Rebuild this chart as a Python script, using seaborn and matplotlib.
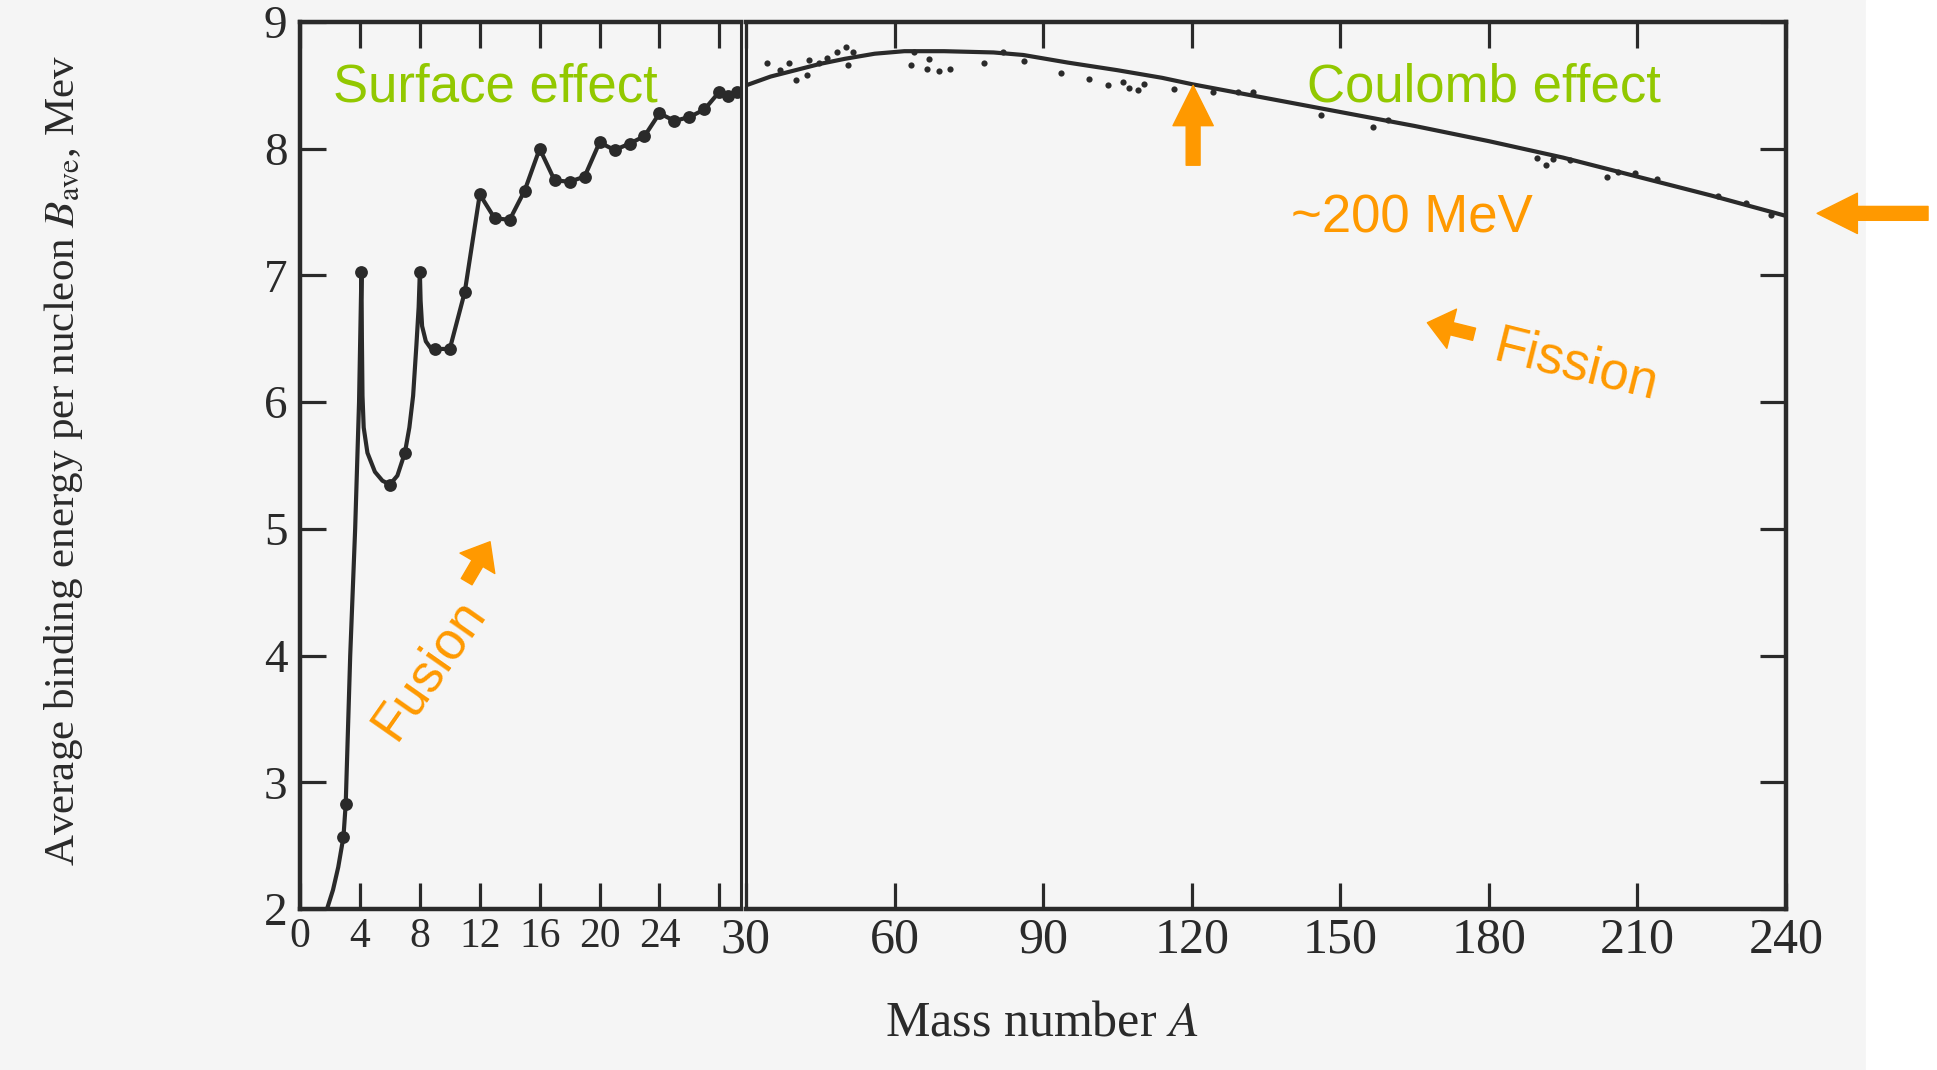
import numpy as np
import pandas as pd
import matplotlib
matplotlib.use('Agg')
import matplotlib.pyplot as plt
import seaborn as sns
from matplotlib.patches import Rectangle

sns.set_style('white')
plt.rcParams['font.family'] = ['Liberation Serif', 'DejaVu Serif']
plt.rcParams['mathtext.fontset'] = 'stix'

# light nuclei, A <= 30 (measured points)
light_a = [2.9, 3.05, 4.1, 6, 7, 8, 9, 10, 11, 12, 13, 14, 15, 16, 17, 18, 19, 20,
           21, 22, 23, 24, 25, 26, 27, 28, 28.6, 29.2]
light_b = [2.57, 2.83, 7.03, 5.35, 5.60, 7.03, 6.42, 6.42, 6.87, 7.64, 7.45, 7.44,
           7.67, 8.00, 7.75, 7.74, 7.78, 8.05, 7.99, 8.04, 8.10, 8.28, 8.22, 8.25,
           8.31, 8.45, 8.42, 8.45]

# hand drawn guide curve through the light nuclei
light_curve_a = [1.8, 2.2, 2.55, 2.9, 3.05, 3.35, 3.68, 3.94, 4.1, 4.13, 4.17, 4.25,
                 4.5, 5.0, 5.5, 6.0, 6.5, 7.0, 7.3, 7.55, 7.77, 7.92, 8.0, 8.05,
                 8.15, 8.4, 8.7, 9, 10, 11, 12, 13, 14, 15, 16, 17, 18, 19, 20,
                 21, 22, 23, 24, 25, 26, 27, 28, 28.6, 29.2, 29.45]
light_curve_b = [2.0, 2.15, 2.33, 2.57, 2.83, 4.0, 5.0, 6.0, 7.03, 6.5, 6.05, 5.8,
                 5.6, 5.45, 5.38, 5.35, 5.42, 5.60, 5.8, 6.05, 6.45, 6.75, 7.03, 6.8,
                 6.6, 6.48, 6.43, 6.42, 6.42, 6.87, 7.64, 7.45, 7.44, 7.67, 8.00,
                 7.75, 7.74, 7.78, 8.05, 7.99, 8.04, 8.10, 8.28, 8.22, 8.25, 8.31,
                 8.45, 8.42, 8.45, 8.47]

# heavier nuclei, A >= 30
heavy_curve_a = [30, 35, 40, 45, 50, 56, 62, 70, 80, 86, 95, 105, 114, 120, 135,
                 150, 165, 180, 195, 210, 225, 240]
heavy_curve_b = [8.50, 8.57, 8.62, 8.67, 8.71, 8.75, 8.77, 8.77, 8.76, 8.74, 8.68,
                 8.62, 8.56, 8.51, 8.40, 8.29, 8.18, 8.06, 7.93, 7.78, 7.63, 7.47]

heavy_a = [34.2, 36.8, 38.6, 40.2, 42.3, 42.7, 44.7, 46.3, 48.3, 50.3, 50.7, 51.7,
           63.4, 64.0, 66.5, 66.9, 68.9, 71.3, 78.1, 82.0, 86.2, 93.7, 99.3, 103.1,
           106.2, 107.4, 109.2, 110.4, 116.5, 124.3, 129.4, 132.4, 146.1, 156.6,
           159.6, 189.8, 191.5, 193.0, 196.5, 203.9, 206.0, 209.6, 214.0, 226.3,
           232.0, 237.0]
heavy_b = [8.68, 8.62, 8.68, 8.54, 8.58, 8.70, 8.68, 8.72, 8.76, 8.80, 8.66, 8.76,
           8.66, 8.76, 8.63, 8.71, 8.61, 8.63, 8.68, 8.76, 8.69, 8.60, 8.55, 8.50,
           8.53, 8.48, 8.46, 8.51, 8.47, 8.45, 8.45, 8.45, 8.27, 8.17, 8.23, 7.93,
           7.87, 7.92, 7.91, 7.78, 7.82, 7.81, 7.76, 7.63, 7.57, 7.48]

left_ticks = [0, 4, 8, 12, 16, 20, 24, 28]
left_labels = ['0', '4', '8', '12', '16', '20', '24', '']
right_ticks = [30, 60, 90, 120, 150, 180, 210, 240]
y_ticks = [2, 3, 4, 5, 6, 7, 8, 9]

ink = '#2a2a2a'
green = '#92c800'
orange = '#ff9900'

fig = plt.figure(figsize=(19.37, 10.70), dpi=100, facecolor='#f5f5f5')
# white strip at the right edge of the scanned page
fig.patches.append(Rectangle((0.9635, 0), 0.0365, 1, transform=fig.transFigure,
                             color='white', zorder=-5))
ax1 = fig.add_axes([0.1549, 0.1505, 0.2277, 0.8289])
ax2 = fig.add_axes([0.3851, 0.1505, 0.5369, 0.8289])

# left panel
lc = pd.DataFrame({'A': light_curve_a, 'B': light_curve_b})
sns.lineplot(data=lc, x='A', y='B', ax=ax1, sort=False, estimator=None,
             color=ink, linewidth=3.0)
sns.scatterplot(x=light_a, y=light_b, ax=ax1, color=ink, s=85, linewidth=0, zorder=3)
ax1.set_xlim(0, 29.45)
ax1.set_ylim(2, 9)
ax1.set_xticks(left_ticks)
ax1.set_xticklabels(left_labels)
ax1.set_yticks(y_ticks)
ax1.tick_params(axis='x', direction='in', length=19, width=2.3, color=ink,
                top=True, bottom=True, labelsize=30, pad=6, labelcolor=ink)
ax1.tick_params(axis='y', direction='in', length=19, width=2.3, color=ink,
                left=True, right=False, labelsize=34, pad=9, labelcolor=ink)

# right panel
hc = pd.DataFrame({'A': heavy_curve_a, 'B': heavy_curve_b})
sns.lineplot(data=hc, x='A', y='B', ax=ax2, sort=False, estimator=None,
             color=ink, linewidth=3.0)
sns.scatterplot(x=heavy_a, y=heavy_b, ax=ax2, color=ink, s=20, linewidth=0, zorder=3)
ax2.set_xlim(30, 240)
ax2.set_ylim(2, 9)
ax2.set_xticks(right_ticks)
ax2.set_yticks(y_ticks)
ax2.tick_params(axis='x', direction='in', length=19, width=2.3, color=ink,
                top=True, bottom=True, labelsize=36, pad=6, labelcolor=ink)
ax2.tick_params(axis='y', direction='in', length=19, width=2.3, color=ink,
                left=False, right=True, labelleft=False, labelright=False)

for ax in (ax1, ax2):
    ax.set_facecolor('none')
    ax.set_xlabel('')
    ax.set_ylabel('')
    for side, sp in ax.spines.items():
        sp.set_visible(True)
        sp.set_color(ink)
        sp.set_linewidth(3.2)
ax1.spines['right'].set_linewidth(2.2)
ax2.spines['left'].set_linewidth(2.2)

fig.text(0.5376, 0.044, r'Mass number $A$', ha='center', va='center',
         fontsize=36, color=ink)
fig.text(0.033, 0.570, r'Average binding energy per nucleon $B_{\rm ave}$, Mev',
         ha='center', va='center', rotation=90, fontsize=31, color=ink)

# annotations
sans = ['Liberation Sans', 'DejaVu Sans']
fig.text(0.172, 0.905, 'Surface effect', family=sans, fontsize=38, color=green,
         ha='left', va='baseline')
fig.text(0.6748, 0.9056, 'Coulomb effect', family=sans, fontsize=38, color=green,
         ha='left', va='baseline')
fig.text(0.6665, 0.783, '~200 MeV', family=sans, fontsize=38, color=orange,
         ha='left', va='baseline')
fig.text(0.7701, 0.6642, 'Fission', family=sans, fontsize=38, color=orange,
         ha='left', va='baseline', rotation=-14, rotation_mode='anchor')
fig.text(0.2039, 0.3068, 'Fusion', family=sans, fontsize=38, color=orange,
         ha='left', va='baseline', rotation=55, rotation_mode='anchor')

block = 'simple,head_length=1.45,head_width=1.45,tail_width=0.5'
small = 'simple,head_length=0.9,head_width=1.45,tail_width=0.45'
ax2.annotate('', xy=(120.3, 8.50), xytext=(120.3, 7.87),
             arrowprops=dict(arrowstyle=block, color=orange, mutation_scale=20,
                             shrinkA=0, shrinkB=0))
ax2.annotate('', xy=(246.3, 7.49), xytext=(268.7, 7.49), annotation_clip=False,
             arrowprops=dict(arrowstyle=block, color=orange, mutation_scale=20,
                             shrinkA=0, shrinkB=0, clip_on=False))
ax2.annotate('', xy=(0.7369, 0.6984), xytext=(0.7610, 0.6876),
             xycoords='figure fraction', textcoords='figure fraction',
             annotation_clip=False,
             arrowprops=dict(arrowstyle=small, color=orange, mutation_scale=20,
                             shrinkA=0, shrinkB=0))
ax1.annotate('', xy=(0.2530, 0.4937), xytext=(0.2409, 0.4564),
             xycoords='figure fraction', textcoords='figure fraction',
             annotation_clip=False,
             arrowprops=dict(arrowstyle=small, color=orange, mutation_scale=20,
                             shrinkA=0, shrinkB=0))

fig.savefig('out.png', dpi=100, facecolor=fig.get_facecolor())
